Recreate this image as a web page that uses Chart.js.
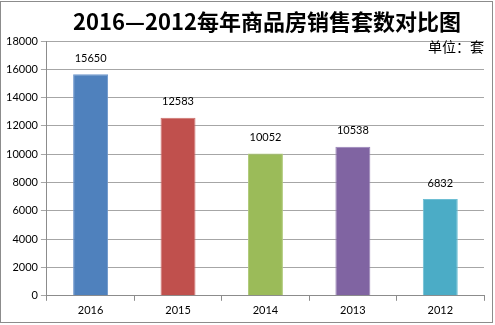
<!DOCTYPE html>
<html>
<head>
<meta charset="utf-8">
<script src="https://cdn.jsdelivr.net/npm/chart.js@4/dist/chart.umd.min.js"></script>
<style>
  html, body { margin: 0; padding: 0; background: #fff; }
  #wrap { width: 495px; height: 325px; }
</style>
</head>
<body>
<div id="wrap"><canvas id="c" width="495" height="325"></canvas></div>
<script>
const years = ['2016', '2015', '2014', '2013', '2012'];
const sales = [15650, 12583, 10052, 10538, 6832];
const barColors = ['#4F81BD', '#C0504D', '#9BBB59', '#8064A2', '#4BACC6'];
const barEdges = ['#6E97CC', '#CE716E', '#B0CB7A', '#9883B6', '#6EBFD4'];
const yTicks = [0, 2000, 4000, 6000, 8000, 10000, 12000, 14000, 16000, 18000];
const titleText = '2016—2012每年商品房销售套数对比图';
const unitText = '单位：套';

const tickFont = { family: 'Lato, "Noto Sans", sans-serif', size: 11 };

const decorations = {
  id: 'decorations',
  beforeDraw(chart) {
    const ctx = chart.ctx;
    ctx.save();
    ctx.fillStyle = '#fff';
    ctx.fillRect(0, 0, chart.width, chart.height);
    ctx.restore();
  },
  afterDraw(chart) {
    const ctx = chart.ctx;
    const area = chart.chartArea;
    ctx.save();
    // outer frame
    ctx.strokeStyle = '#8c8c8c';
    ctx.lineWidth = 1;
    ctx.strokeRect(0.5, 1.5, chart.width - 3, chart.height - 4);
    // title
    ctx.fillStyle = '#000';
    ctx.font = 'bold 22px "Noto Sans CJK SC", sans-serif';
    ctx.textAlign = 'center';
    ctx.textBaseline = 'middle';
    ctx.fillText(titleText, 267, 22);
    // unit note
    ctx.font = '14px "Noto Sans CJK SC", sans-serif';
    ctx.textAlign = 'right';
    ctx.fillText(unitText, area.right, area.top + 6);
    // value labels above the bars
    ctx.font = '11px Lato, "Noto Sans", sans-serif';
    ctx.textAlign = 'center';
    ctx.textBaseline = 'middle';
    const meta = chart.getDatasetMeta(0);
    meta.data.forEach((bar, i) => {
      ctx.fillText(String(sales[i]), bar.x, bar.y - 16);
    });
    ctx.restore();
  }
};

new Chart(document.getElementById('c'), {
  type: 'bar',
  data: {
    labels: years,
    datasets: [{
      data: sales,
      backgroundColor: barColors,
      borderColor: barEdges,
      borderWidth: 1,
      barPercentage: 0.8,
      categoryPercentage: 0.5
    }]
  },
  options: {
    responsive: false,
    animation: false,
    devicePixelRatio: 1,
    layout: { padding: { left: 3, right: 11, top: 41, bottom: 5 } },
    plugins: {
      legend: { display: false },
      title: { display: false },
      tooltip: { enabled: false }
    },
    scales: {
      x: {
        grid: {
          offset: true,
          drawOnChartArea: false,
          drawTicks: true,
          tickLength: 5,
          color: '#8c8c8c'
        },
        border: { color: '#8c8c8c' },
        ticks: { color: '#000', font: tickFont, padding: 3 }
      },
      y: {
        min: 0,
        max: 18000,
        afterBuildTicks(scale) {
          scale.ticks = yTicks.map(v => ({ value: v }));
        },
        grid: {
          color: '#a6a6a6',
          tickLength: 6,
          drawTicks: true
        },
        border: { color: '#8c8c8c' },
        ticks: {
          color: '#000',
          font: tickFont,
          padding: 3,
          callback: v => String(v)
        }
      }
    }
  },
  plugins: [decorations]
});
</script>
</body>
</html>
